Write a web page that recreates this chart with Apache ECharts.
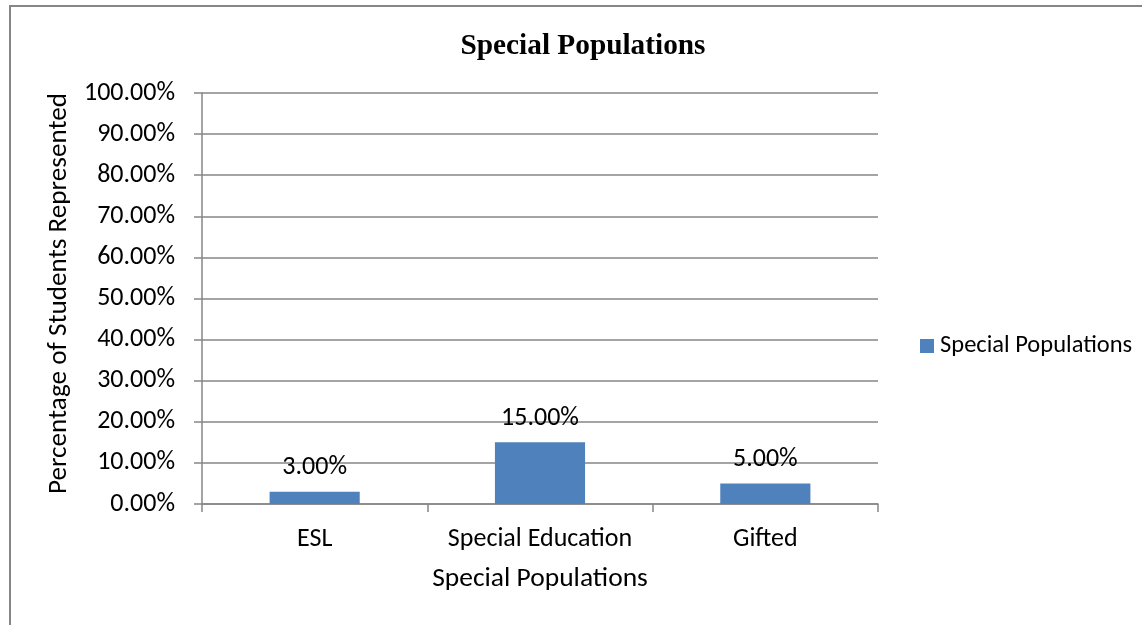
<!DOCTYPE html>
<html>
<head>
<meta charset="utf-8">
<script src="https://cdn.jsdelivr.net/npm/echarts@6/dist/echarts.min.js"></script>
<style>
  html, body { margin: 0; padding: 0; background: #ffffff; }
  #chart { width: 1142px; height: 625px; }
</style>
</head>
<body>
<div id="chart"></div>
<script>
// Share of students in each special population (percent)
const categories = ['ESL', 'Special Education', 'Gifted'];
const seriesName = 'Special Populations';
const values = [3, 15, 5];
const yTicks = { min: 0, max: 100, interval: 10 };

const bodyFont = 'Carlito, Lato, "Open Sans", sans-serif';
const gridColor = '#868686';
const fmtPct = v => Number(v).toFixed(2) + '%';

const chart = echarts.init(document.getElementById('chart'), null, { renderer: 'canvas' });

chart.setOption({
  animation: false,
  backgroundColor: '#ffffff',
  graphic: [{
    type: 'rect',
    shape: { x: 10, y: 6, width: 1300, height: 800 },
    style: { fill: 'none', stroke: gridColor, lineWidth: 2 },
    silent: true
  }],
  title: {
    text: 'Special Populations',
    left: 578,
    top: 27,
    textAlign: 'center',
    textStyle: {
      fontFamily: '"Liberation Serif", "Times New Roman", serif',
      fontWeight: 'bold',
      fontSize: 29.3,
      color: '#000000'
    }
  },
  legend: {
    data: [seriesName],
    orient: 'vertical',
    left: 920,
    top: 333,
    padding: 0,
    itemWidth: 14,
    itemHeight: 14,
    itemGap: 5,
    icon: 'rect',
    textStyle: { fontFamily: bodyFont, fontSize: 24.5, lineHeight: 26, color: '#000000', padding: [0, 0, 0, 1] }
  },
  grid: { left: 202, right: 264, top: 93, bottom: 121, containLabel: false },
  xAxis: {
    type: 'category',
    data: categories,
    name: 'Special Populations',
    nameLocation: 'middle',
    nameGap: 61,
    nameTextStyle: { fontFamily: bodyFont, fontSize: 27.5, color: '#000000' },
    axisLine: { show: true, lineStyle: { color: gridColor, width: 1.5 } },
    axisTick: { show: true, length: 8, alignWithLabel: false, lineStyle: { color: gridColor, width: 1.5 } },
    axisLabel: { interval: 0, margin: 22, fontFamily: bodyFont, fontSize: 26, color: '#000000' },
    splitLine: { show: false }
  },
  yAxis: {
    type: 'value',
    min: yTicks.min,
    max: yTicks.max,
    interval: yTicks.interval,
    name: 'Percentage of Students Represented',
    nameLocation: 'middle',
    nameGap: 128,
    nameRotate: 90,
    nameTextStyle: { fontFamily: bodyFont, fontSize: 27.2, color: '#000000', padding: [0, 0, 0, 10] },
    axisLine: { show: true, lineStyle: { color: gridColor, width: 1.5 } },
    axisTick: { show: true, length: 8, lineStyle: { color: gridColor, width: 1.5 } },
    axisLabel: { margin: 27, fontFamily: bodyFont, fontSize: 26, color: '#000000', formatter: fmtPct },
    splitLine: { show: true, lineStyle: { color: gridColor, width: 1.5 } }
  },
  series: [{
    name: seriesName,
    type: 'bar',
    data: values,
    barWidth: '40%',
    itemStyle: { color: '#4F81BD' },
    label: {
      show: true,
      position: 'top',
      distance: 11,
      fontFamily: bodyFont,
      fontSize: 26,
      color: '#000000',
      formatter: p => fmtPct(p.value)
    }
  }]
});
</script>
</body>
</html>
